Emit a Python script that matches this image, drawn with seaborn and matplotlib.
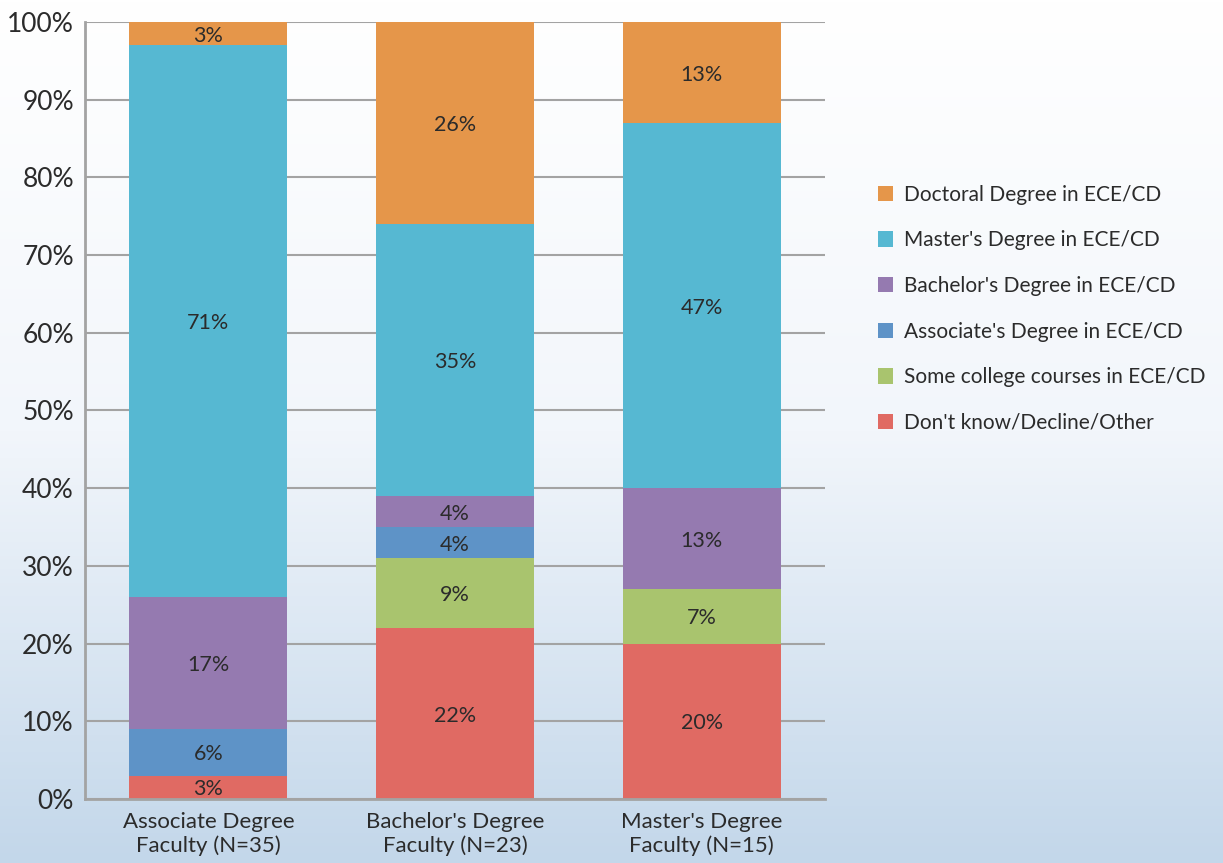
import numpy as np
import pandas as pd
import matplotlib.pyplot as plt
import seaborn as sns
from matplotlib.patches import Patch
from matplotlib.colors import LinearSegmentedColormap

# Data (percent)
groups = ["Associate Degree\nFaculty (N=35)", "Bachelor's Degree\nFaculty (N=23)", "Master's Degree\nFaculty (N=15)"]
series = ["Don't know/Decline/Other", "Some college courses in ECE/CD", "Associate's Degree in ECE/CD",
          "Bachelor's Degree in ECE/CD", "Master's Degree in ECE/CD", "Doctoral Degree in ECE/CD"]
dont_know = [3, 22, 20]
some_college = [0, 9, 7]
associates = [6, 4, 0]
bachelors = [17, 4, 13]
masters = [71, 35, 47]
doctoral = [3, 26, 13]
colors = ["#E06A63", "#A9C46E", "#5E93C7", "#957AB0", "#56B8D2", "#E5964A"]

values = [dont_know, some_college, associates, bachelors, masters, doctoral]

sns.set_style("white")
plt.rcParams['font.family'] = ['Lato', 'DejaVu Sans']
text_color = "#2b2b2b"

fig = plt.figure(figsize=(12.23, 8.63), dpi=100)

# background gradient over the whole figure
bg = fig.add_axes([0, 0, 1, 1], zorder=-10)
grad = np.linspace(0, 1, 256).reshape(-1, 1)
cmap = LinearSegmentedColormap.from_list("bg", ["#ffffff", "#f2f6fb", "#c3d7ea"])
bg.imshow(grad, aspect="auto", cmap=cmap, extent=[0, 1, 0, 1], origin="upper")
bg.axis("off")

ax = fig.add_axes([85 / 1223, 1 - 799 / 863, 740 / 1223, 777 / 863])
ax.patch.set_alpha(0)

bottom = np.zeros(len(groups))
for name, vals, col in zip(series, values, colors):
    df = pd.DataFrame({"group": groups, "value": vals})
    sns.barplot(data=df, x="group", y="value", color=col, bottom=bottom, width=0.64,
                ax=ax, saturation=1, edgecolor="none", zorder=2)
    for i, v in enumerate(vals):
        if v > 0:
            ax.text(i, bottom[i] + v / 2, f"{v}%", ha="center", va="center_baseline",
                    fontsize=15.5, color=text_color, zorder=3)
    bottom = bottom + np.array(vals)

ax.set_ylim(0, 100)
ax.set_xlim(-0.5, 2.5)
ax.set_yticks(range(0, 101, 10))
ax.set_yticklabels([f"{t}%" for t in range(0, 101, 10)], fontsize=19, color=text_color)
ax.tick_params(axis="x", labelsize=16, colors=text_color, length=0, pad=9)
ax.tick_params(axis="y", length=0, pad=8)
for lbl in ax.get_xticklabels():
    lbl.set_linespacing(1.25)
ax.set_xlabel("")
ax.set_ylabel("")
ax.yaxis.grid(True, color="#a3a3a3", linewidth=1.5, zorder=0)
ax.set_axisbelow(True)
for s in ["top", "right"]:
    ax.spines[s].set_visible(False)
for s in ["left", "bottom"]:
    ax.spines[s].set_color("#a3a3a3")
    ax.spines[s].set_linewidth(2)

handles = [Patch(facecolor=c, edgecolor="none") for c in colors[::-1]]
fig.legend(handles, series[::-1], loc="upper left", bbox_to_anchor=(859 / 1223, 1 - 166 / 863),
           frameon=False, fontsize=15, handlelength=0.75, handleheight=0.75, handletextpad=0.5,
           labelspacing=1.23, labelcolor=text_color)

fig.savefig("out.png", dpi=100)
